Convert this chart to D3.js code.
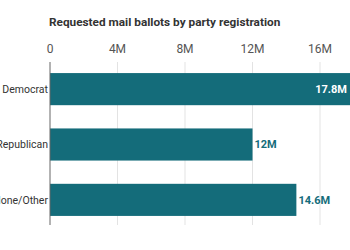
<!DOCTYPE html>
<html>
<head>
<meta charset="utf-8">
<script src="https://cdn.jsdelivr.net/npm/d3@7"></script>
<style>
  body { margin: 0; background: #fff; }
  svg { display: block; font-family: Roboto, "Liberation Sans", sans-serif; }
</style>
</head>
<body>
<div id="chart"></div>
<script>
var parties = ["Democrat", "Republican", "None/Other"];
var ballots = [17.8, 12, 14.6];
var valueLabels = ["17.8M", "12M", "14.6M"];
var tickValues = [0, 4, 8, 12, 16];

var width = 350, height = 250;

var svg = d3.select("#chart").append("svg")
    .attr("width", width)
    .attr("height", height);

var x = d3.scaleLinear()
    .domain([0, 16])
    .range([50, 320]);

var y = d3.scaleBand()
    .domain(parties)
    .range([62, 227])
    .paddingInner(0.42)
    .paddingOuter(0.2);

svg.append("text")
    .attr("x", 49)
    .attr("y", 26)
    .attr("fill", "#333")
    .attr("font-size", 11.8)
    .attr("font-weight", "bold")
    .text("Requested mail ballots by party registration");

// gridlines
svg.append("g")
  .selectAll("line")
  .data(tickValues.slice(1))
  .enter().append("line")
    .attr("x1", d => x(d)).attr("x2", d => x(d))
    .attr("y1", 62).attr("y2", 225)
    .attr("stroke", "#e3e3e3")
    .attr("stroke-width", 1);

svg.append("g")
  .selectAll("text")
  .data(tickValues)
  .enter().append("text")
    .attr("x", d => x(d))
    .attr("y", 53)
    .attr("text-anchor", "middle")
    .attr("fill", "#555")
    .attr("font-size", 12)
    .text(d => d === 0 ? "0" : d + "M");

var rows = parties.map((p, i) => ({party: p, value: ballots[i], label: valueLabels[i]}));

svg.append("g")
  .selectAll("rect")
  .data(rows)
  .enter().append("rect")
    .attr("x", x(0))
    .attr("y", d => y(d.party))
    .attr("width", d => x(d.value) - x(0))
    .attr("height", y.bandwidth())
    .attr("fill", "#146c7a");

svg.append("line")
    .attr("x1", x(0)).attr("x2", x(0))
    .attr("y1", 62).attr("y2", 225)
    .attr("stroke", "#666")
    .attr("stroke-width", 1);

svg.append("g")
  .selectAll("text")
  .data(rows)
  .enter().append("text")
    .attr("x", x(0) - 2)
    .attr("y", d => y(d.party) + y.bandwidth() / 2)
    .attr("dy", "0.35em")
    .attr("text-anchor", "end")
    .attr("fill", "#333")
    .attr("font-size", 10.5)
    .text(d => d.party);

svg.append("g")
  .selectAll("text")
  .data(rows)
  .enter().append("text")
    .attr("x", d => d.value > 16 ? width - 3 : x(d.value) + 2)
    .attr("y", d => y(d.party) + y.bandwidth() / 2)
    .attr("dy", "0.35em")
    .attr("text-anchor", d => d.value > 16 ? "end" : "start")
    .attr("fill", d => d.value > 16 ? "#fff" : "#146c7a")
    .attr("font-size", 11)
    .attr("font-weight", "bold")
    .text(d => d.label);
</script>
</body>
</html>
